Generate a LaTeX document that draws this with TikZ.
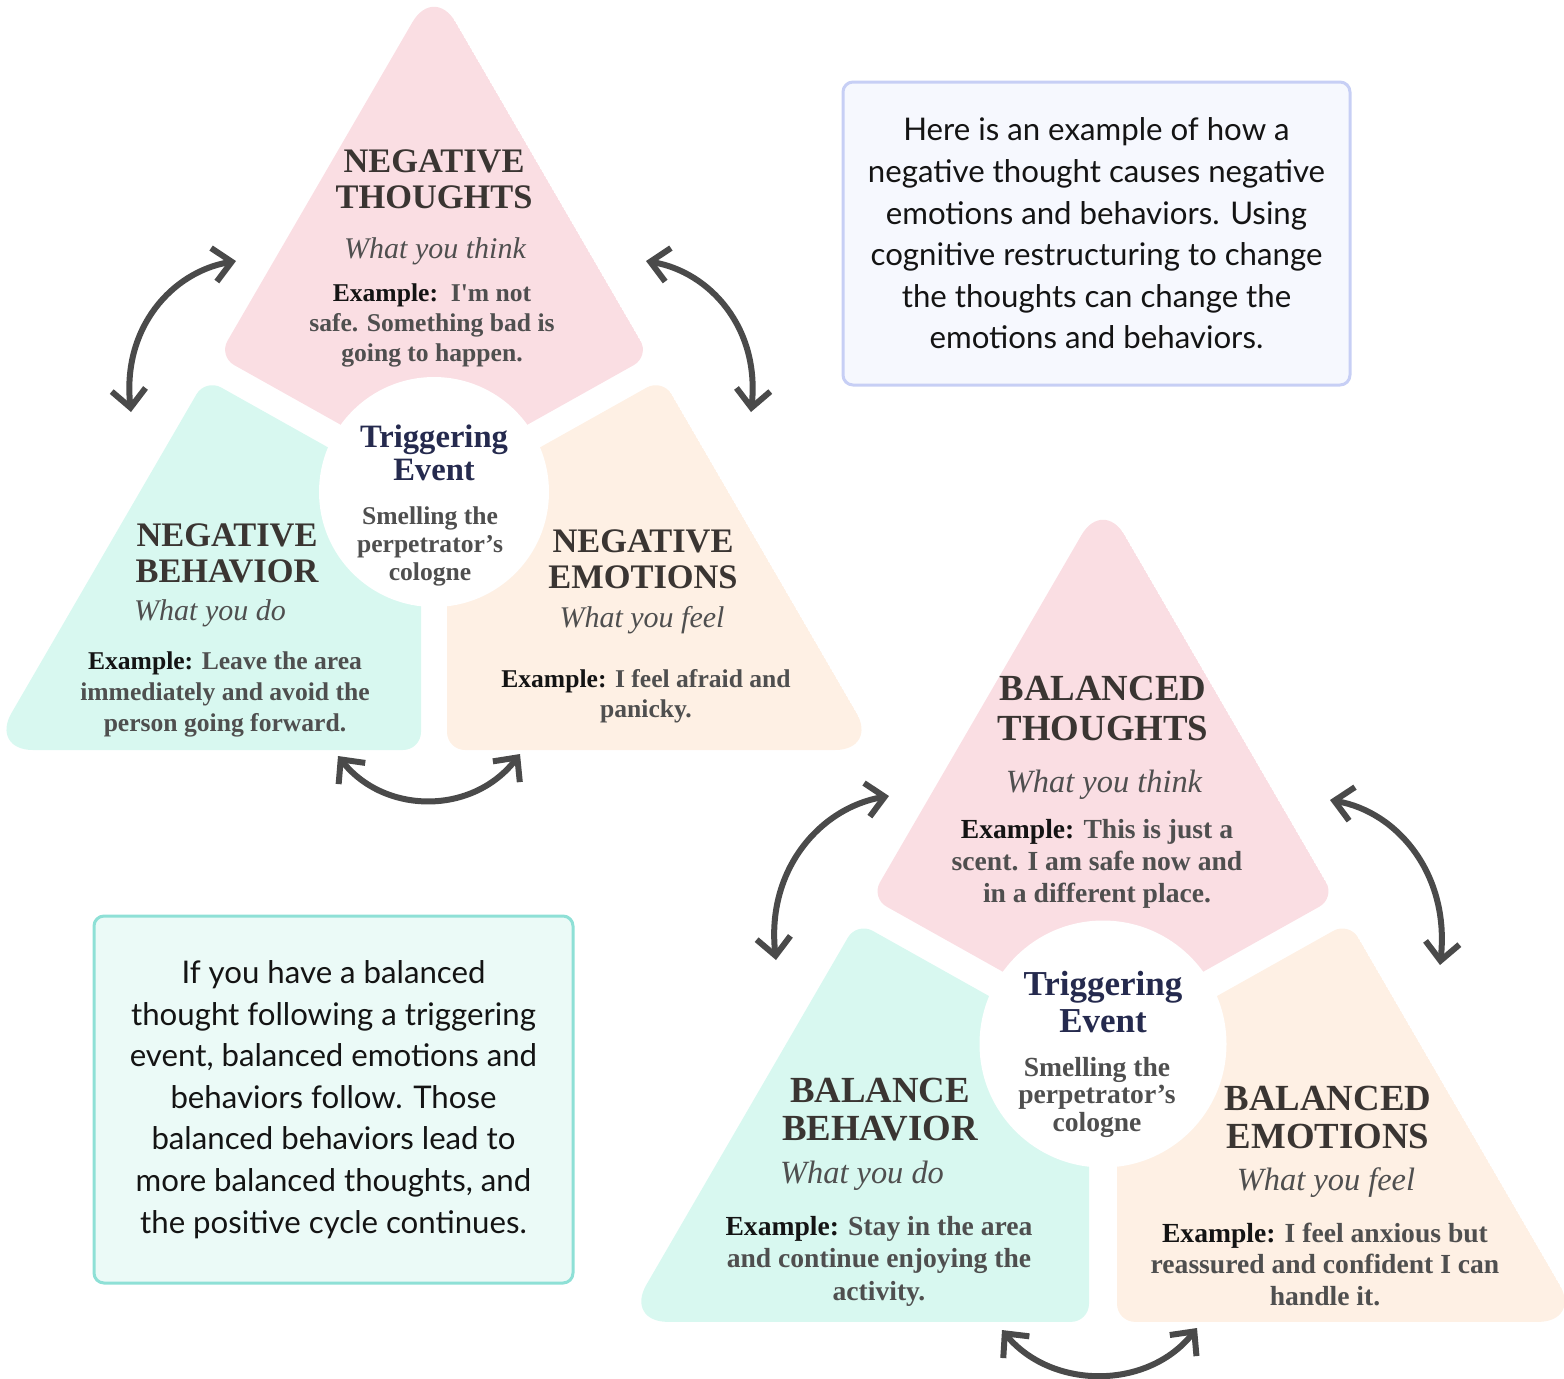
\documentclass[tikz,border=0pt]{standalone}
\usepackage{fontspec}
\setmainfont{Liberation Serif}[Ligatures=TeXOff]
\newfontfamily\notefont{Lato}
\usetikzlibrary{arrows.meta}

\definecolor{thoughtpink}{HTML}{FADEE3}
\definecolor{behaviormint}{HTML}{D8F8F0}
\definecolor{emotionpeach}{HTML}{FEF0E4}
\definecolor{headgray}{HTML}{3A3532}
\definecolor{bodygray}{HTML}{4F4F4F}
\definecolor{labelblack}{HTML}{141414}
\definecolor{eventnavy}{HTML}{252A4E}
\definecolor{arrowgray}{HTML}{4A4A4A}
\definecolor{noteblue}{HTML}{C7CFF5}
\definecolor{notebluefill}{HTML}{F6F8FE}
\definecolor{noteteal}{HTML}{8EE0D6}
\definecolor{notetealfill}{HTML}{EBFAF7}

\newcommand{\exlabel}[1]{\textcolor{labelblack}{#1}}

% three pieces of one cycle, round (0,0)
\newcommand{\cyclepieces}{%
  \begin{scope}
    \clip[rounded corners=21.5pt] (0,-507) -- (-444,258) -- (444,258) -- cycle;
    \fill[thoughtpink]  (0,-15) -- (215.5,-135.7) -- (0,-507) -- (-215.5,-135.7) -- cycle;
    \fill[behaviormint] (-13,7.5) -- (-228.5,-113.3) -- (-444,258) -- (-13,258) -- cycle;
    \fill[emotionpeach] (13,7.5) -- (13,258) -- (444,258) -- (228.5,-113.3) -- cycle;
  \end{scope}
}

\tikzset{
  piece/.style={rounded corners=9pt},
  eventdisk/.style={circle,fill=white,inner sep=0pt,minimum size=#1},
  headtext/.style 2 args={font=\fontsize{#1}{#2}\selectfont\bfseries,text=headgray,
    align=center,anchor=base,inner sep=0pt},
  subtext/.style={font=\fontsize{#1}{#1}\selectfont\itshape,text=bodygray,
    anchor=base,inner sep=0pt},
  extext/.style 2 args={font=\fontsize{#1}{#2}\selectfont\bfseries,text=bodygray,
    align=center,anchor=base,inner sep=0pt},
  eventtitle/.style 2 args={font=\fontsize{#1}{#2}\selectfont\bfseries,text=eventnavy,
    align=center,anchor=base,inner sep=0pt},
  notebox/.style={draw,line width=1.5pt,rounded corners=5pt,align=center,
    font=\notefont\fontsize{15.6}{20.8}\selectfont,text=labelblack,inner sep=0pt},
  cyclearrow/.style={draw=arrowgray,line width=3pt,line cap=round,
    {Straight Barb[length=9pt,width=17pt]}-{Straight Barb[length=9pt,width=17pt]}}
}

\begin{document}
\begin{tikzpicture}[x=0.5pt,y=-0.5pt]
  \useasboundingbox (0,0) rectangle (1564,1378);

  % negative cycle
  \begin{scope}[shift={(434,492)},piece]
    \cyclepieces
  \end{scope}
  \node[eventdisk=115pt] (neg-disk) at (434,492) {};

  % balanced cycle
  \begin{scope}[shift={(1103,1044)},scale=1.077,piece]
    \cyclepieces
  \end{scope}
  \node[eventdisk=123.5pt] (pos-disk) at (1103,1044) {};

  % negative texts (multi-line nodes sit on their last line)
  \node[headtext={17.2}{18}] (neg-thoughts) at (434,208) {NEGATIVE\\THOUGHTS};
  \node[subtext=15] (neg-think) at (435,258) {What you think};
  \node[extext={12.8}{15}] (neg-thoughts-ex) at (432,361)
    {\exlabel{Example:}~~I'm not\\safe. Something bad is\\going to happen.};

  \node[eventtitle={16.3}{16.5}] (neg-event) at (434,480) {Triggering\\Event};
  \node[extext={12.8}{14}] (neg-event-ex) at (430,580)
    {Smelling the\\perpetrator’s\\cologne};

  \node[headtext={17.2}{18}] (neg-behavior) at (227,582) {NEGATIVE\\BEHAVIOR};
  \node[subtext=15] (neg-do) at (210,620) {What you do};
  \node[extext={12.8}{15.5}] (neg-behavior-ex) at (225,731)
    {\exlabel{Example:} Leave the area\\immediately and avoid the\\person going forward.};

  \node[headtext={17.2}{18}] (neg-emotions) at (643,588) {NEGATIVE\\EMOTIONS};
  \node[subtext=15] (neg-feel) at (642,627) {What you feel};
  \node[extext={12.8}{15}] (neg-emotions-ex) at (646,717)
    {\exlabel{Example:} I feel afraid and\\panicky.};

  % balanced texts
  \node[headtext={18.4}{20}] (pos-thoughts) at (1103,740) {BALANCED\\THOUGHTS};
  \node[subtext=16.2] (pos-think) at (1104,792) {What you think};
  \node[extext={13.8}{16}] (pos-thoughts-ex) at (1097,902)
    {\exlabel{Example:} This is just a\\scent. I am safe now and\\in a different place.};

  \node[eventtitle={17.5}{18.5}] (pos-event) at (1103,1032) {Triggering\\Event};
  \node[extext={13.8}{13.75}] (pos-event-ex) at (1097,1131)
    {Smelling the\\perpetrator’s\\cologne};

  \node[headtext={18.4}{19}] (pos-behavior) at (880,1140) {BALANCE\\BEHAVIOR};
  \node[subtext=16.2] (pos-do) at (862,1183) {What you do};
  \node[extext={13.8}{16.25}] (pos-behavior-ex) at (879,1300)
    {\exlabel{Example:} Stay in the area\\and continue enjoying the\\activity.};

  \node[headtext={18.4}{19}] (pos-emotions) at (1328,1148) {BALANCED\\EMOTIONS};
  \node[subtext=16.2] (pos-feel) at (1326,1190) {What you feel};
  \node[extext={13.8}{15.75}] (pos-emotions-ex) at (1325,1305)
    {\exlabel{Example:} I feel anxious but\\reassured and confident I can\\handle it.};

  % notes
  \node[notebox,draw=noteblue,fill=notebluefill,minimum width=253.5pt,minimum height=151.5pt]
    (note-negative) at (1096.5,233.5)
    {Here is an example of how a\\negative thought causes negative\\emotions and behaviors. Using\\cognitive restructuring to change\\the thoughts can change the\\emotions and behaviors.};
  \node[notebox,draw=noteteal,fill=notetealfill,minimum width=239.5pt,minimum height=183.5pt]
    (note-balanced) at (333.5,1099.5)
    {If you have a balanced\\thought following a triggering\\event, balanced emotions and\\behaviors follow. Those\\balanced behaviors lead to\\more balanced thoughts, and\\the positive cycle continues.};

  % arrows
  \coordinate (neg-left-a)  at (131,412);
  \coordinate (neg-left-b)  at (236,261);
  \coordinate (neg-right-a) at (751,412);
  \coordinate (neg-right-b) at (646,261);
  \coordinate (neg-low-a)   at (338,756);
  \coordinate (neg-low-b)   at (520,754);
  \coordinate (pos-left-a)  at (776,960);
  \coordinate (pos-left-b)  at (889,796);
  \coordinate (pos-right-a) at (1440,965);
  \coordinate (pos-right-b) at (1330,800);
  \coordinate (pos-low-a)   at (1002,1330);
  \coordinate (pos-low-b)   at (1197,1328);

  \draw[cyclearrow] (neg-left-a) .. controls (122,328) and (172,272) .. (neg-left-b);
  \draw[cyclearrow] (neg-right-a) .. controls (760,328) and (710,272) .. (neg-right-b);
  \draw[cyclearrow] (neg-low-a) .. controls (385,815) and (473,815) .. (neg-low-b);
  \draw[cyclearrow] (pos-left-a) .. controls (766,870) and (820,808) .. (pos-left-b);
  \draw[cyclearrow] (pos-right-a) .. controls (1450,875) and (1398,812) .. (pos-right-b);
  \draw[cyclearrow] (pos-low-a) .. controls (1052,1390) and (1148,1390) .. (pos-low-b);

\end{tikzpicture}
\end{document}
